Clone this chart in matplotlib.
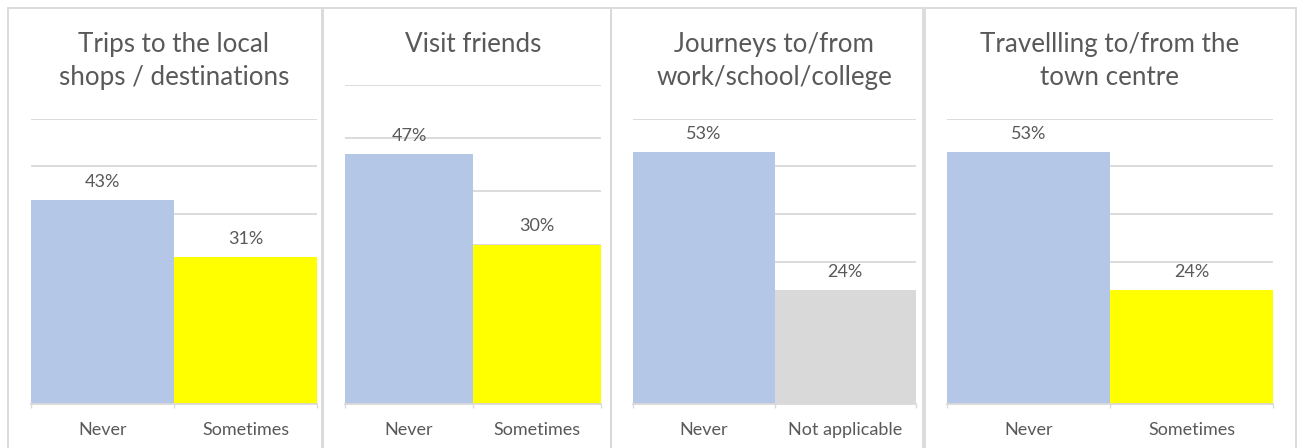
import matplotlib
matplotlib.use("Agg")
import matplotlib.pyplot as plt
from matplotlib.patches import Rectangle
from matplotlib.ticker import MultipleLocator, FixedLocator

plt.rcParams['font.family'] = ['Lato', 'DejaVu Sans']

titles = ["Trips to the local\nshops / destinations",
          "Visit friends",
          "Journeys to/from\nwork/school/college",
          "Travellling to/from the\ntown centre"]
categories = [["Never", "Sometimes"],
              ["Never", "Sometimes"],
              ["Never", "Not applicable"],
              ["Never", "Sometimes"]]
values = [[43, 31], [47, 30], [53, 24], [53, 24]]
bar_colors = [["#b4c7e7", "#ffff00"],
              ["#b4c7e7", "#ffff00"],
              ["#b4c7e7", "#d9d9d9"],
              ["#b4c7e7", "#ffff00"]]

W, H = 1301, 448
fig = plt.figure(figsize=(W / 100, H / 100), dpi=100)
TXT = "#595959"
GRID = "#d9d9d9"

# panel borders (pixel: left, right)
panels = [(8, 322), (323, 611), (611, 923), (925, 1296)]
# axes (pixel: x0, x1, ytop)
axes_px = [(31, 317, 119), (345, 601, 85), (633, 916, 119), (947, 1273, 119)]
base_y = 404
title_y = [61, 44, 61, 61]

def fx(px):
    return px / W

def fy(py):
    return 1 - py / H

for (l, r) in panels:
    fig.patches.append(Rectangle((fx(l), fy(460)), fx(r - l), (460 - 8) / H,
                                 transform=fig.transFigure, fill=False,
                                 edgecolor=GRID, linewidth=1.3))

for k in range(4):
    x0, x1, ytop = axes_px[k]
    ax = fig.add_axes([fx(x0), fy(base_y), fx(x1 - x0), (base_y - ytop) / H])
    xs = list(range(len(values[k])))
    ax.bar(xs, values[k], width=1.0, color=bar_colors[k], zorder=2)
    ax.set_xlim(-0.5, len(xs) - 0.5)
    ax.set_ylim(0, 60)
    ax.yaxis.set_major_locator(MultipleLocator(10))
    ax.grid(axis='y', color=GRID, linewidth=1.3, zorder=0)
    ax.set_axisbelow(True)
    for s in ['left', 'right', 'top']:
        ax.spines[s].set_visible(False)
    ax.spines['bottom'].set_color(GRID)
    ax.spines['bottom'].set_linewidth(1.3)
    ax.spines['bottom'].set_zorder(3)
    ax.tick_params(axis='y', left=False, labelleft=False)
    ax.set_xticks(xs)
    ax.set_xticklabels(categories[k])
    ax.tick_params(axis='x', which='major', length=0, pad=13, labelsize=13, labelcolor=TXT)
    ax.xaxis.set_minor_locator(FixedLocator([-0.5 + i for i in range(len(xs) + 1)]))
    ax.tick_params(axis='x', which='minor', length=3, width=1, color=GRID)
    for i, v in enumerate(values[k]):
        ax.annotate(f"{v}%", (i, v), xytext=(0, 13), textcoords='offset points',
                    ha='center', va='center', fontsize=13, color=TXT)
    cx = (x0 + x1) / 2
    fig.text(fx(cx), fy(title_y[k]), titles[k], ha='center', va='center',
             fontsize=18.7, color=TXT, linespacing=1.38)

fig.savefig("out.png", dpi=100)
